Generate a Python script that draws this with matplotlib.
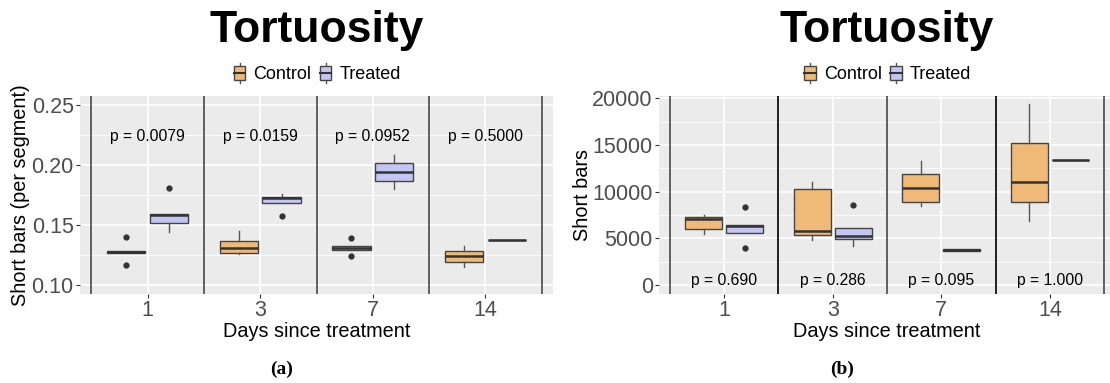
import matplotlib
matplotlib.use("Agg")
from matplotlib import pyplot as plt
from matplotlib.patches import Patch, Rectangle
from matplotlib.lines import Line2D
from matplotlib.legend_handler import HandlerBase

plt.rcParams['font.family'] = ['Liberation Sans', 'DejaVu Sans']

days = ["1", "3", "7", "14"]

# five number summaries: (whislo, q1, med, q3, whishi)
a_control = [(0.1267, 0.1267, 0.1276, 0.1286, 0.1286),
             (0.1258, 0.1267, 0.1311, 0.1369, 0.1453),
             (0.1294, 0.1294, 0.1311, 0.1325, 0.1325),
             (0.1147, 0.1189, 0.1239, 0.1283, 0.1328)]
a_control_out = [[0.1403, 0.1164], [], [0.1394, 0.1244], []]
a_treated = [(0.1444, 0.1517, 0.1583, 0.1589, 0.1589),
             (0.1683, 0.1683, 0.1722, 0.1733, 0.1758),
             (0.1797, 0.1867, 0.1942, 0.2017, 0.2086),
             (0.1375, 0.1375, 0.1375, 0.1375, 0.1375)]
a_treated_out = [[0.1808], [0.1572], [], []]
a_pvals = ["p = 0.0079", "p = 0.0159", "p = 0.0952", "p = 0.5000"]
a_p_y = 0.224

b_control = [(5468, 6007, 7050, 7302, 7518),
             (4856, 5360, 5791, 10252, 11007),
             (8417, 8885, 10360, 11871, 13309),
             (6835, 8885, 11007, 15180, 19388)]
b_control_out = [[], [], [], []]
b_treated = [(5576, 5576, 6295, 6439, 6439),
             (4137, 4928, 5252, 6079, 6079),
             (3600, 3660, 3741, 3820, 3900),
             (13381, 13381, 13381, 13381, 13381)]
b_treated_out = [[8345, 3921], [8525], [], []]
b_pvals = ["p = 0.690", "p = 0.286", "p = 0.095", "p = 1.000"]
b_p_y = 450

ctrl_col = "#EFBA78"
trt_col = "#C3C6F2"


def to_stats(summ, outs):
    res = []
    for (lo, q1, med, q3, hi), fl in zip(summ, outs):
        res.append(dict(whislo=lo, q1=q1, med=med, q3=q3, whishi=hi, fliers=fl))
    return res


def draw_boxes(ax, summ, outs, offset, color):
    pos = [i + 1 + offset for i in range(len(summ))]
    ax.bxp(to_stats(summ, outs), positions=pos, widths=0.34, patch_artist=True,
           showcaps=False,
           boxprops=dict(facecolor=color, edgecolor="#444444", linewidth=1.0),
           medianprops=dict(color="#333333", linewidth=1.8),
           whiskerprops=dict(color="#555555", linewidth=1.0),
           flierprops=dict(marker="o", markerfacecolor="#333333",
                           markeredgecolor="#333333", markersize=3.5),
           zorder=3)


class BoxHandler(HandlerBase):
    def create_artists(self, legend, orig_handle, xdescent, ydescent,
                       width, height, fontsize, trans):
        cx = -xdescent + width / 2
        y0 = -ydescent
        w = width * 0.8
        whisk = Line2D([cx, cx], [y0 - height * 0.15, y0 + height * 1.15],
                       color="#555555", lw=1.0, transform=trans)
        box = Rectangle((cx - w / 2, y0 + height * 0.05), w, height * 0.9,
                        facecolor=orig_handle.get_facecolor(),
                        edgecolor="#444444", lw=1.0, transform=trans)
        med = Line2D([cx - w / 2, cx + w / 2], [y0 + height / 2] * 2,
                     color="#333333", lw=1.5, transform=trans)
        return [whisk, box, med]


def style_panel(ax, ylim, yticks, yminor, ylabel, pvals, p_y, dark_lines, ylab_x):
    ax.set_facecolor("#EBEBEB")
    for s in ax.spines.values():
        s.set_visible(False)
    ax.set_xlim(0.4, 4.6)
    ax.set_ylim(*ylim)
    ax.set_xticks(range(1, 5))
    ax.set_xticklabels(days)
    ax.set_yticks(yticks)
    ax.set_yticks(yminor, minor=True)
    for y in yticks:
        ax.axhline(y, color="white", lw=1.2, zorder=0)
    for y in yminor:
        ax.axhline(y, color="white", lw=0.6, zorder=0)
    for x in range(1, 5):
        ax.axvline(x, color="white", lw=1.2, zorder=0)
    for i, x in enumerate([0.5, 1.5, 2.5, 3.5, 4.5]):
        c = "#111111" if i in dark_lines else "#555555"
        ax.axvline(x, color=c, lw=1.3, zorder=2)
    ax.tick_params(axis="both", which="major", labelsize=15.5, colors="#333333",
                   labelcolor="#4D4D4D", length=3, width=0.8, pad=1.5)
    ax.tick_params(axis="y", which="minor", length=0)
    for i, t in enumerate(pvals):
        ax.text(i + 1, p_y, t, ha="center", va="center", fontsize=11.3, zorder=4)
    ax.set_ylabel(ylabel, fontsize=14.3)
    ax.yaxis.set_label_coords(ylab_x, 0.5)
    ax.set_xlabel("Days since treatment", fontsize=14.3)
    ax.xaxis.set_label_coords(0.5, -0.14)
    ax.text(0.5, 1.33, "Tortuosity", transform=ax.transAxes, ha="center",
            va="center", fontsize=32, fontweight="bold")
    handles = [Patch(facecolor=ctrl_col), Patch(facecolor=trt_col)]
    ax.legend(handles, ["Control", "Treated"], handler_map={Patch: BoxHandler()},
              loc="center", bbox_to_anchor=(0.5, 1.11), ncol=2, frameon=False,
              fontsize=13, handlelength=0.8, handleheight=0.9,
              handletextpad=0.35, columnspacing=0.4, borderaxespad=0)


fig = plt.figure(figsize=(11.1, 3.83), dpi=100)
ax1 = fig.add_axes([80 / 1110, 89 / 383, 473 / 1110, 198 / 383])
ax2 = fig.add_axes([659 / 1110, 89 / 383, 456 / 1110, 198 / 383])

draw_boxes(ax1, a_control, a_control_out, -0.19, ctrl_col)
draw_boxes(ax1, a_treated, a_treated_out, 0.19, trt_col)
style_panel(ax1, (0.0925, 0.2575), [0.10, 0.15, 0.20, 0.25], [0.125, 0.175, 0.225],
            "Short bars (per segment)", a_pvals, a_p_y, [], -50 / 473)
ax1.set_yticklabels(["0.10", "0.15", "0.20", "0.25"])

draw_boxes(ax2, b_control, b_control_out, -0.19, ctrl_col)
draw_boxes(ax2, b_treated, b_treated_out, 0.19, trt_col)
style_panel(ax2, (-965, 20265), [0, 5000, 10000, 15000, 20000],
            [2500, 7500, 12500, 17500], "Short bars", b_pvals, b_p_y, [1, 3], -67 / 456)

fig.text(282 / 1110, 1 - 369 / 383, "(a)", ha="center", va="center",
         fontsize=14, fontweight="bold", family=["Liberation Serif", "DejaVu Serif"])
fig.text(842 / 1110, 1 - 369 / 383, "(b)", ha="center", va="center",
         fontsize=14, fontweight="bold", family=["Liberation Serif", "DejaVu Serif"])

fig.savefig("out.png", dpi=100)
